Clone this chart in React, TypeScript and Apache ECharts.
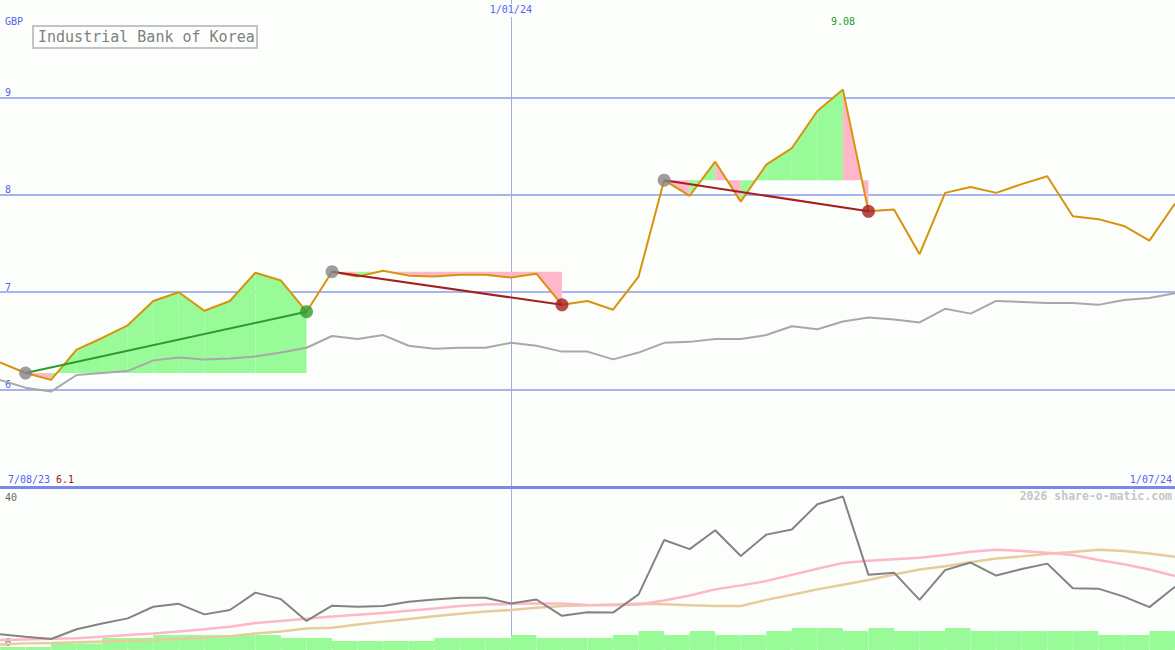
import React, { useEffect, useRef } from "react";
import * as echarts from "echarts";

const title = "Industrial Bank of Korea";
const currency = "GBP";
const copyright = "2026 share-o-matic.com";
const startLabel = "7/08/23";
const endLabel = "1/07/24";

const dates = [
  "14/08/23", "21/08/23", "28/08/23", "4/09/23", "11/09/23", "18/09/23", "25/09/23",
  "2/10/23", "9/10/23", "16/10/23", "23/10/23", "30/10/23", "6/11/23", "13/11/23",
  "20/11/23", "27/11/23", "4/12/23", "11/12/23", "18/12/23", "25/12/23", "1/01/24",
  "8/01/24", "15/01/24", "22/01/24", "29/01/24", "5/02/24", "12/02/24", "19/02/24",
  "26/02/24", "4/03/24", "11/03/24", "18/03/24", "25/03/24", "1/04/24", "8/04/24",
  "15/04/24", "22/04/24", "29/04/24", "6/05/24", "13/05/24", "20/05/24", "27/05/24",
  "3/06/24", "10/06/24", "17/06/24", "24/06/24", "1/07/24",
];
const markedDateIndex = 20;

const price = [
  6.28, 6.17, 6.1, 6.41, 6.53, 6.66, 6.91, 7.0, 6.81, 6.91,
  7.2, 7.12, 6.8, 7.21, 7.16, 7.22, 7.17, 7.16, 7.18, 7.18,
  7.15, 7.19, 6.87, 6.91, 6.82, 7.16, 8.15, 7.99, 8.34, 7.93,
  8.31, 8.48, 8.86, 9.08, 7.83, 7.85, 7.39, 8.02, 8.08, 8.02,
  8.11, 8.19, 7.78, 7.75, 7.68, 7.53, 7.91,
];
const priceAvg = [
  6.1, 6.02, 5.98, 6.15, 6.17, 6.19, 6.3, 6.33, 6.31, 6.32,
  6.34, 6.38, 6.43, 6.55, 6.52, 6.56, 6.45, 6.42, 6.43, 6.43,
  6.48, 6.45, 6.39, 6.39, 6.31, 6.38, 6.48, 6.49, 6.52, 6.52,
  6.56, 6.65, 6.62, 6.7, 6.74, 6.72, 6.69, 6.83, 6.78, 6.91,
  6.9, 6.89, 6.89, 6.87, 6.92, 6.94, 6.99,
];
const oscillator = [
  3.5, 2.8, 2.2, 4.9, 6.5, 7.9, 11.1, 11.9, 9.0, 10.2,
  15.0, 13.2, 7.2, 11.4, 11.1, 11.3, 12.5, 13.1, 13.6, 13.6,
  12.0, 13.1, 8.6, 9.6, 9.5, 14.5, 29.5, 27.0, 32.2, 25.1,
  31.0, 32.4, 39.4, 41.5, 19.9, 20.5, 13.0, 21.2, 23.3, 19.7,
  21.5, 23.0, 16.2, 16.1, 13.9, 11.0, 16.6,
];
const oscPink = [
  1.9, 2.1, 2.3, 2.4, 2.8, 3.3, 3.7, 4.3, 4.9, 5.6,
  6.6, 7.2, 7.8, 8.4, 8.9, 9.4, 10.0, 10.6, 11.3, 11.7,
  11.9, 12.0, 12.0, 11.6, 11.5, 11.7, 12.8, 14.2, 15.9, 17.0,
  18.2, 19.9, 21.6, 23.2, 23.8, 24.2, 24.6, 25.4, 26.3, 26.8,
  26.5, 26.0, 25.4, 24.0, 22.8, 21.4, 19.6,
];
const oscTan = [
  0.7, 1.0, 1.1, 1.3, 1.5, 1.7, 1.9, 2.2, 2.6, 3.0,
  3.7, 4.3, 5.1, 5.3, 6.2, 7.0, 7.7, 8.5, 9.2, 9.8,
  10.2, 10.8, 11.3, 11.5, 11.7, 11.9, 11.8, 11.5, 11.3, 11.3,
  13.0, 14.4, 15.9, 17.2, 18.5, 20.0, 21.4, 22.3, 23.4, 24.4,
  25.0, 25.7, 26.2, 26.8, 26.5, 25.8, 24.9,
];
const volume = [
  3, 3, 6.5, 6.5, 12, 12, 15, 15, 15, 15,
  15, 12, 12, 9, 9, 9, 9, 12, 12, 12,
  15, 12, 12, 12, 15, 19, 15, 19, 15, 15,
  19, 22, 22, 19, 22, 19, 19, 22, 19, 19,
  19, 19, 19, 15, 15, 19,
];
const priceTicks = [6, 7, 8, 9];
const oscTicks = [0, 40];
const trades = [
  { entry: 1, exit: 12, win: true },
  { entry: 13, exit: 22, win: false },
  { entry: 26, exit: 34, win: false },
];

const BG = "#fcfefc";
const BLUE_TEXT = "#5262f2";
const GRID_BLUE = "#a8b4f2";
const SEP_BLUE = "#7a88ee";
const VLINE = "#a4ace6";
const GREEN_FILL = "#98fb98";
const PINK_FILL = "#ffb6c8";
const WIN = "#2e9b2e";
const LOSS = "#a61e1e";
const MONO = "'DejaVu Sans Mono', monospace";

function buildOption(): any {
  const fillData: number[][] = [];
  trades.forEach((t) => {
    for (let i = t.entry; i < t.exit; i++) {
      fillData.push([i, i + 1, price[i], price[i + 1], price[t.entry]]);
    }
  });

  const tradeLines = trades.map((t) => ({
    type: "line",
    xAxisIndex: 0,
    yAxisIndex: 0,
    data: [
      [t.entry, price[t.entry]],
      [t.exit, price[t.exit]],
    ],
    symbol: "none",
    lineStyle: { color: t.win ? WIN : LOSS, width: 2 },
    z: 4,
    silent: true,
  }));

  return {
    animation: false,
    backgroundColor: BG,
    grid: [
      { left: 0, right: 0, top: 0, height: 487 },
      { left: 0, right: 0, top: 502, height: 145 },
      { left: 0, right: 0, top: 488, height: 162 },
    ],
    xAxis: [
      {
        gridIndex: 0,
        type: "category",
        data: dates,
        boundaryGap: false,
        position: "top",
        axisLine: { show: false },
        axisTick: { show: false },
        axisLabel: {
          inside: true,
          interval: (i: number) => i === markedDateIndex,
          margin: 4,
          color: BLUE_TEXT,
          fontSize: 10,
          fontFamily: MONO,
          backgroundColor: BG,
          padding: [0, 2, 3, 2],
        },
        splitLine: {
          show: true,
          interval: (i: number) => i === markedDateIndex,
          lineStyle: { color: VLINE, width: 1 },
        },
      },
      {
        gridIndex: 1,
        type: "category",
        data: dates,
        boundaryGap: false,
        show: false,
      },
      {
        gridIndex: 2,
        type: "category",
        data: dates.slice(0, volume.length),
        boundaryGap: true,
        axisLine: { show: false },
        axisTick: { show: false },
        axisLabel: { show: false },
        splitLine: { show: false },
      },
      {
        gridIndex: 0,
        type: "category",
        data: dates,
        boundaryGap: false,
        position: "bottom",
        axisLine: { show: true, lineStyle: { color: SEP_BLUE, width: 3 } },
        axisTick: { show: false },
        axisLabel: { show: false },
        splitLine: { show: false },
      },
      {
        gridIndex: 2,
        type: "category",
        data: dates,
        boundaryGap: false,
        position: "top",
        axisLine: { show: false },
        axisTick: { show: false },
        axisLabel: { show: false },
        splitLine: {
          show: true,
          interval: (i: number) => i === markedDateIndex,
          lineStyle: { color: VLINE, width: 1 },
        },
      },
    ],
    yAxis: [
      {
        gridIndex: 0,
        type: "value",
        min: 5,
        max: 10,
        interval: 1,
        axisLine: { show: false },
        axisTick: { show: false },
        axisLabel: {
          inside: true,
          margin: 5,
          verticalAlign: "bottom",
          color: BLUE_TEXT,
          fontSize: 10,
          fontFamily: MONO,
          formatter: (v: number) => (priceTicks.includes(v) ? String(v) : ""),
        },
        splitLine: {
          show: true,
          showMinLine: false,
          showMaxLine: false,
          lineStyle: { color: GRID_BLUE, width: 2 },
        },
      },
      {
        gridIndex: 1,
        type: "value",
        min: 0,
        max: 40,
        interval: 40,
        axisLine: { show: false },
        axisTick: { show: false },
        splitLine: { show: false },
        axisLabel: {
          inside: true,
          margin: 5,
          verticalAlign: "bottom",
          color: "#666666",
          fontSize: 10,
          fontFamily: MONO,
          formatter: (v: number) => (oscTicks.includes(v) ? String(v) : ""),
        },
      },
      {
        gridIndex: 2,
        type: "value",
        min: 0,
        max: 162,
        axisLine: { show: false },
        axisTick: { show: false },
        axisLabel: { show: false },
        splitLine: { show: false },
      },
    ],
    series: [
      {
        type: "custom",
        xAxisIndex: 0,
        yAxisIndex: 0,
        data: fillData,
        encode: { x: [0, 1], y: [2, 3, 4] },
        z: 1,
        silent: true,
        renderItem: (params: any, api: any) => {
          const x0 = api.value(0);
          const x1 = api.value(1);
          const p0 = api.value(2);
          const p1 = api.value(3);
          const b = api.value(4);
          const pts = [
            api.coord([x0, b]),
            api.coord([x0, p0]),
            api.coord([x1, p1]),
            api.coord([x1, b]),
          ];
          return {
            type: "polygon",
            shape: { points: pts },
            style: { fill: p1 > b ? GREEN_FILL : PINK_FILL },
          };
        },
      },
      {
        type: "line",
        xAxisIndex: 0,
        yAxisIndex: 0,
        data: priceAvg,
        symbol: "none",
        lineStyle: { color: "#a8a8a8", width: 2 },
        z: 2,
        silent: true,
      },
      {
        type: "line",
        xAxisIndex: 0,
        yAxisIndex: 0,
        data: price,
        symbol: "none",
        lineStyle: { color: "#d8930c", width: 2 },
        z: 3,
        silent: true,
      },
      ...tradeLines,
      {
        type: "scatter",
        xAxisIndex: 0,
        yAxisIndex: 0,
        data: trades.map((t) => [t.entry, price[t.entry]]),
        symbolSize: 13,
        itemStyle: { color: "#858585" },
        z: 5,
        silent: true,
      },
      {
        type: "scatter",
        xAxisIndex: 0,
        yAxisIndex: 0,
        data: trades.map((t) => ({
          value: [t.exit, price[t.exit]],
          itemStyle: { color: t.win ? WIN : LOSS },
        })),
        symbolSize: 13,
        z: 5,
        silent: true,
      },
      {
        type: "bar",
        xAxisIndex: 2,
        yAxisIndex: 2,
        data: volume,
        barCategoryGap: "0%",
        itemStyle: { color: GREEN_FILL, borderColor: GREEN_FILL, borderWidth: 1 },
        z: 1,
        silent: true,
      },
      {
        type: "line",
        xAxisIndex: 1,
        yAxisIndex: 1,
        data: oscTan,
        symbol: "none",
        lineStyle: { color: "#e6cc9c", width: 2.5 },
        z: 2,
        clip: false,
        silent: true,
      },
      {
        type: "line",
        xAxisIndex: 1,
        yAxisIndex: 1,
        data: oscPink,
        symbol: "none",
        lineStyle: { color: "#ffb6c8", width: 2.5 },
        z: 2,
        clip: false,
        silent: true,
      },
      {
        type: "line",
        xAxisIndex: 1,
        yAxisIndex: 1,
        data: oscillator,
        symbol: "none",
        lineStyle: { color: "#838383", width: 2 },
        z: 3,
        clip: false,
        silent: true,
      },
    ],
  };
}

export default function App() {
  const ref = useRef<HTMLDivElement>(null);
  useEffect(() => {
    document.body.style.margin = "0";
    const chart = echarts.init(ref.current as HTMLDivElement, null, { renderer: "svg" });
    chart.setOption(buildOption());

    const maxVal = Math.max(...price);
    const maxIdx = price.indexOf(maxVal);
    const minVal = Math.min(...price);
    const maxPx = chart.convertToPixel({ seriesIndex: 2 }, [maxIdx, maxVal]) as number[];
    const maxX = maxPx ? maxPx[0] : 843;

    const txt = (x: number, y: number, text: string, fill: string, size: number, align = "left", weight = "normal") => ({
      type: "text",
      x,
      y,
      silent: true,
      z: 100,
      style: {
        text,
        fill,
        fontSize: size,
        fontFamily: MONO,
        fontWeight: weight,
        align,
        textAlign: align,
        verticalAlign: "middle",
        textVerticalAlign: "middle",
      },
    });

    chart.setOption({
      graphic: [
        txt(5, 21, currency, BLUE_TEXT, 10),
        {
          type: "rect",
          z: 99,
          silent: true,
          shape: { x: 33, y: 26, width: 224, height: 22 },
          style: { fill: "none", stroke: "#c4c4c4", lineWidth: 2 },
        },
        txt(38, 37, title, "#808080", 15),
        txt(maxX, 21, maxVal.toFixed(2), "#22a022", 10, "center"),
        txt(8, 479, startLabel, BLUE_TEXT, 10),
        txt(56, 479, String(minVal), "#a01818", 10),
        txt(1172, 479, endLabel, BLUE_TEXT, 10, "right"),
        txt(1172, 496, copyright, "#c6c6c6", 11.5, "right", "bold"),
      ],
    });

    return () => chart.dispose();
  }, []);
  return <div ref={ref} style={{ width: 1175, height: 650 }} />;
}
